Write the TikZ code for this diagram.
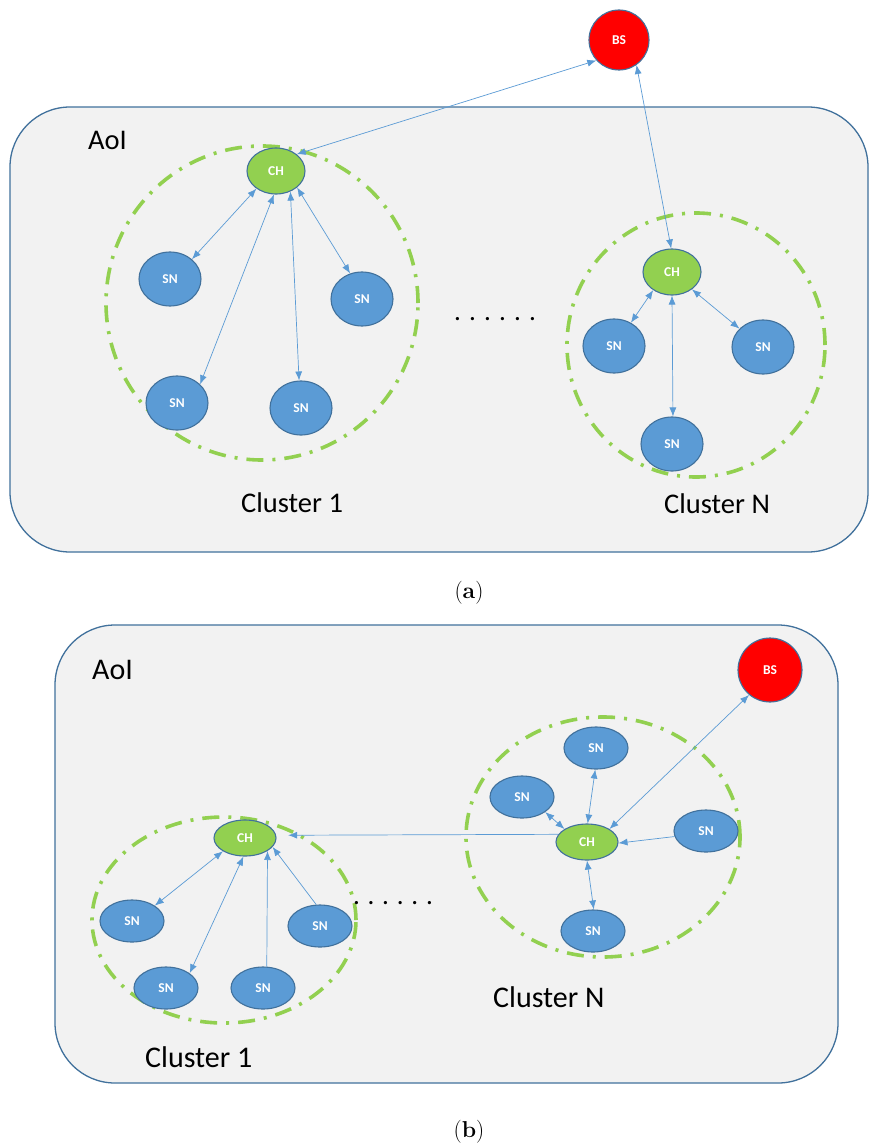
\documentclass[tikz,border=0pt]{standalone}
\usepackage{fontspec}
\usetikzlibrary{shapes.geometric,arrows.meta}
\newfontfamily\calfont{Carlito}
\definecolor{sncol}{HTML}{5B9BD5}
\definecolor{chcol}{HTML}{92D050}
\definecolor{bscol}{HTML}{FF0000}
\definecolor{edgecol}{HTML}{41719C}
\definecolor{arcol}{HTML}{5B9BD5}
\definecolor{aoifill}{HTML}{F2F2F2}
\tikzset{
  base/.style={ellipse, draw=edgecol, line width=1.1pt, inner sep=0pt, text=white,
    font=\calfont\bfseries\fontsize{13.5}{15}\selectfont},
  sna/.style={base, fill=sncol, minimum width=62pt, minimum height=54pt},
  cha/.style={base, fill=chcol, minimum width=58pt, minimum height=46pt},
  snb/.style={base, fill=sncol, minimum width=64pt, minimum height=42pt},
  chb/.style={base, fill=chcol, minimum width=62pt, minimum height=36pt},
  bsnode/.style={base, circle, fill=bscol, minimum size=60pt},
  aoi/.style={draw=edgecol, fill=aoifill, line width=1.3pt, rounded corners=60pt},
  clus/.style={draw=chcol, line width=3.6pt, dash pattern=on 17pt off 9pt on 3pt off 9pt},
  both/.style={draw=arcol, line width=0.7pt, {Latex[length=9pt,width=7pt]}-{Latex[length=9pt,width=7pt]}},
  one/.style={draw=arcol, line width=0.7pt, -{Latex[length=9pt,width=7pt]}},
  lbla/.style={anchor=base west, inner sep=0pt, font=\calfont\fontsize{28.5}{32}\selectfont},
  lblb/.style={anchor=base west, inner sep=0pt, font=\calfont\fontsize{30}{34}\selectfont},
  dotsty/.style={anchor=base, inner sep=0pt, font=\calfont\fontsize{27}{30}\selectfont},
  capt/.style={anchor=base, inner sep=0pt, font=\fontsize{23}{27}\selectfont}
}
\begin{document}
\begin{tikzpicture}[x=1pt,y=-1pt]
\useasboundingbox[fill=white] (0,0) rectangle (869,1148);
% ---------------- panel (a)
\draw[aoi] (10,107) rectangle (868,552);
\node[lbla] (aoia) at (88,149) {AoI};
\draw[clus] (262,303) ellipse [x radius=156pt, y radius=157pt];
\draw[clus] (696,345) ellipse [x radius=129pt, y radius=132pt];
\node[bsnode] (bsa) at (619,40) {BS};
\node[cha] (ch1) at (276,171) {CH};
\node[sna] (s11) at (170,279) {SN};
\node[sna] (s12) at (362,299) {SN};
\node[sna] (s13) at (177,403) {SN};
\node[sna] (s14) at (301,408) {SN};
\node[cha] (chn) at (672,272) {CH};
\node[sna] (sn1) at (614,346) {SN};
\node[sna] (sn2) at (763,347) {SN};
\node[sna] (sn3) at (672,444) {SN};
\draw[both] (ch1.39) -- (bsa.222);
\draw[both] (ch1.222) -- (s11.42);
\draw[both] (ch1.265) -- (s13.39);
\draw[both] (ch1.305) -- (s14.94);
\draw[both] (ch1.322) -- (s12.115);
\draw[both] (bsa.305) -- (chn.92);
\draw[both] (chn.224) -- (sn1.54);
\draw[both] (chn.319) -- (sn2.142);
\draw[both] (chn.270) -- (sn3.88);
\node[dotsty] (dotsa) at (495,320) {.\hspace{8.2pt}.\hspace{8.2pt}.\hspace{8.2pt}.\hspace{8.2pt}.\hspace{8.2pt}.};
\node[lbla] (c1a) at (241,512) {Cluster 1};
\node[lbla] (cna) at (664,513) {Cluster N};
\node[capt] (capa) at (469,598) {(\textbf{a})};
% ---------------- panel (b)
\draw[aoi] (55,625) rectangle (838,1083);
\node[lblb] (aoib) at (92,679) {AoI};
\draw[clus] (224,920) ellipse [x radius=132pt, y radius=103pt];
\draw[clus] (603,837) ellipse [x radius=137pt, y radius=120pt];
\node[bsnode, minimum size=64pt] (bsb) at (770,670) {BS};
\node[chb] (cb1) at (245,838) {CH};
\node[snb] (b11) at (132,921) {SN};
\node[snb] (b12) at (166,988) {SN};
\node[snb] (b13) at (263,988) {SN};
\node[snb] (b14) at (320,926) {SN};
\node[chb] (cbn) at (587,842) {CH};
\node[snb] (bn1) at (596,748) {SN};
\node[snb] (bn2) at (522,797) {SN};
\node[snb] (bn3) at (706,831) {SN};
\node[snb] (bn4) at (593,931) {SN};
\draw[both] (cb1.211) -- (b11.34);
\draw[both] (cb1.265) -- (b12.32);
\draw[one] (b13.80) -- (cb1.-30);
\draw[one] (b14.100) -- (cb1.-18);
\draw[one, shorten >=12pt] (cbn.165) -- (cb1.5);
\draw[both] (cbn.88) -- (bn1.-92);
\draw[both] (cbn.150) -- (bn2.-33);
\draw[one] (bn3.190) -- (cbn.-2);
\draw[both] (cbn.270) -- (bn4.88);
\draw[both] (cbn.30) -- (bsb.230);
\node[dotsty] (dotsb) at (393,904) {.\hspace{7.8pt}.\hspace{7.8pt}.\hspace{7.8pt}.\hspace{7.8pt}.\hspace{7.8pt}.};
\node[lblb] (cnb) at (493,1007) {Cluster N};
\node[lblb] (c1b) at (145,1067) {Cluster 1};
\node[capt] (capb) at (469,1137) {(\textbf{b})};
\end{tikzpicture}
\end{document}
